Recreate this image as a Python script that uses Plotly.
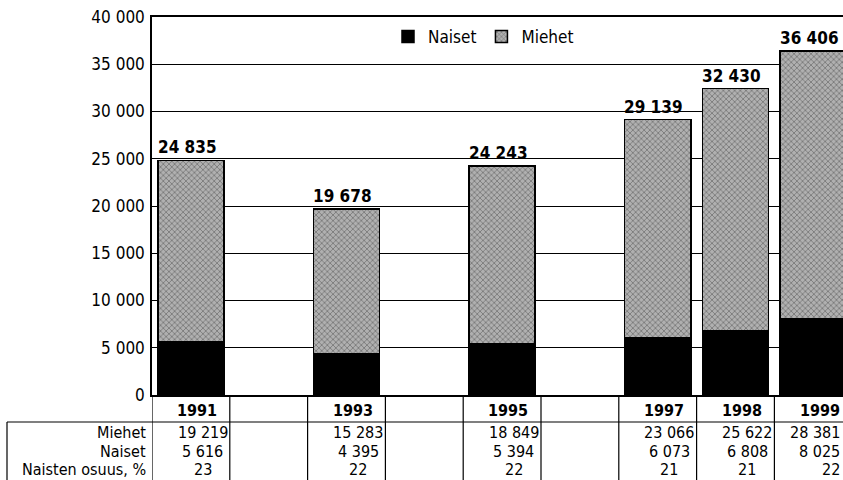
import plotly.graph_objects as go

years = [1991, 1993, 1995, 1997, 1998, 1999]
miehet = [19219, 15283, 18849, 23066, 25622, 28381]
naiset = [5616, 4395, 5394, 6073, 6808, 8025]
osuus = [23, 22, 22, 21, 21, 22]
totals = [m + n for m, n in zip(miehet, naiset)]
row_labels = ["Miehet", "Naiset", "Naisten osuus, %"]
yticks = [0, 5000, 10000, 15000, 20000, 25000, 30000, 35000, 40000]

def fmt(v):
    return f"{v:,}".replace(",", " ")

FONT = "Liberation Sans Narrow, DejaVu Sans Condensed, Liberation Sans, Arial, sans-serif"
W, H = 843, 480
ML, MT, MB = 152, 17, 85
PW, PH = W - ML, H - MT - MB
X0 = 1990.5
PXY = 77.8
X1 = X0 + PW / PXY

def py(p):  # pixel y -> paper y
    return (H - MB - p) / PH

def px(p):  # pixel x -> paper x
    return (p - ML) / PW

fig = go.Figure()
fig.add_trace(go.Bar(
    x=years, y=naiset, name="Naiset", width=0.85,
    marker=dict(color="black", line=dict(color="black", width=1.5)),
))
fig.add_trace(go.Bar(
    x=years, y=miehet, name="Miehet", width=0.85,
    marker=dict(color="#a0a0a0", line=dict(color="black", width=1.5),
                pattern=dict(shape="x", fgcolor="#333333", bgcolor="#b0b0b0",
                             size=4, solidity=0.35)),
))

ann = []
for yr, t in zip(years, totals):
    ann.append(dict(x=yr - 0.05, y=t, xref="x", yref="y", text=f"<b>{fmt(t)}</b>",
                    showarrow=False, yanchor="bottom", yshift=1,
                    font=dict(size=17, color="black", family=FONT)))

# table
shapes = []
for i in range(10):
    xv = X0 + i
    shapes.append(dict(type="line", xref="x", yref="paper", x0=xv, x1=xv,
                       y0=0, y1=py(480), line=dict(color="black", width=1.2)))
shapes.append(dict(type="line", xref="paper", yref="paper", x0=px(7), x1=1,
                   y0=py(422), y1=py(422), line=dict(color="black", width=1.2)))
shapes.append(dict(type="line", xref="paper", yref="paper", x0=px(7), x1=px(7),
                   y0=py(422), y1=py(480), line=dict(color="black", width=1.2)))

row_y = [432, 451, 469]
for lab, yy in zip(row_labels, row_y):
    ann.append(dict(x=px(148), y=py(yy), xref="paper", yref="paper", text=lab,
                    showarrow=False, xanchor="right", yanchor="middle",
                    font=dict(size=16, color="black", family=FONT)))
for i, yr in enumerate(years):
    ann.append(dict(x=yr + 0.08, y=py(410), xref="x", yref="paper", text=f"<b>{yr}</b>",
                    showarrow=False, xanchor="center", yanchor="middle",
                    font=dict(size=16, color="black", family=FONT)))
    last = (i == len(years) - 1)
    for vals, yy in zip([miehet, naiset, osuus], row_y):
        if last:
            pos = dict(x=px(842), xref="paper", xanchor="right")
        else:
            pos = dict(x=yr + 0.15, xref="x", xanchor="center")
        ann.append(dict(y=py(yy), yref="paper", text=fmt(vals[i]),
                        showarrow=False, yanchor="middle",
                        font=dict(size=16, color="black", family=FONT), **pos))

fig.update_layout(
    width=W, height=H, barmode="stack",
    margin=dict(l=ML, r=0, t=MT, b=MB, pad=0),
    paper_bgcolor="white", plot_bgcolor="white",
    font=dict(family=FONT, size=17, color="black"),
    separators=", ",
    showlegend=True,
    legend=dict(orientation="h", x=px(388), y=py(37), xanchor="left", yanchor="middle",
                traceorder="normal", bgcolor="rgba(0,0,0,0)", itemwidth=30,
                font=dict(size=17, family=FONT, color="black")),
    annotations=ann, shapes=shapes,
)
fig.update_xaxes(range=[X0, X1], showticklabels=False, showgrid=False, zeroline=False,
                 showline=True, mirror=True, linecolor="black", linewidth=1.5, ticks="")
fig.update_yaxes(range=[0, 40000], tickvals=yticks, ticktext=[fmt(v) for v in yticks],
                 showgrid=True, gridcolor="black", gridwidth=1, zeroline=False,
                 showline=True, linecolor="black", linewidth=1.5, ticks="",
                 ticklabelstandoff=2, tickfont=dict(size=17, family=FONT, color="black"))

fig.write_html("out.html", config={"displayModeBar": False},
               post_script="document.body.style.margin='0';document.body.style.overflow='hidden';")
